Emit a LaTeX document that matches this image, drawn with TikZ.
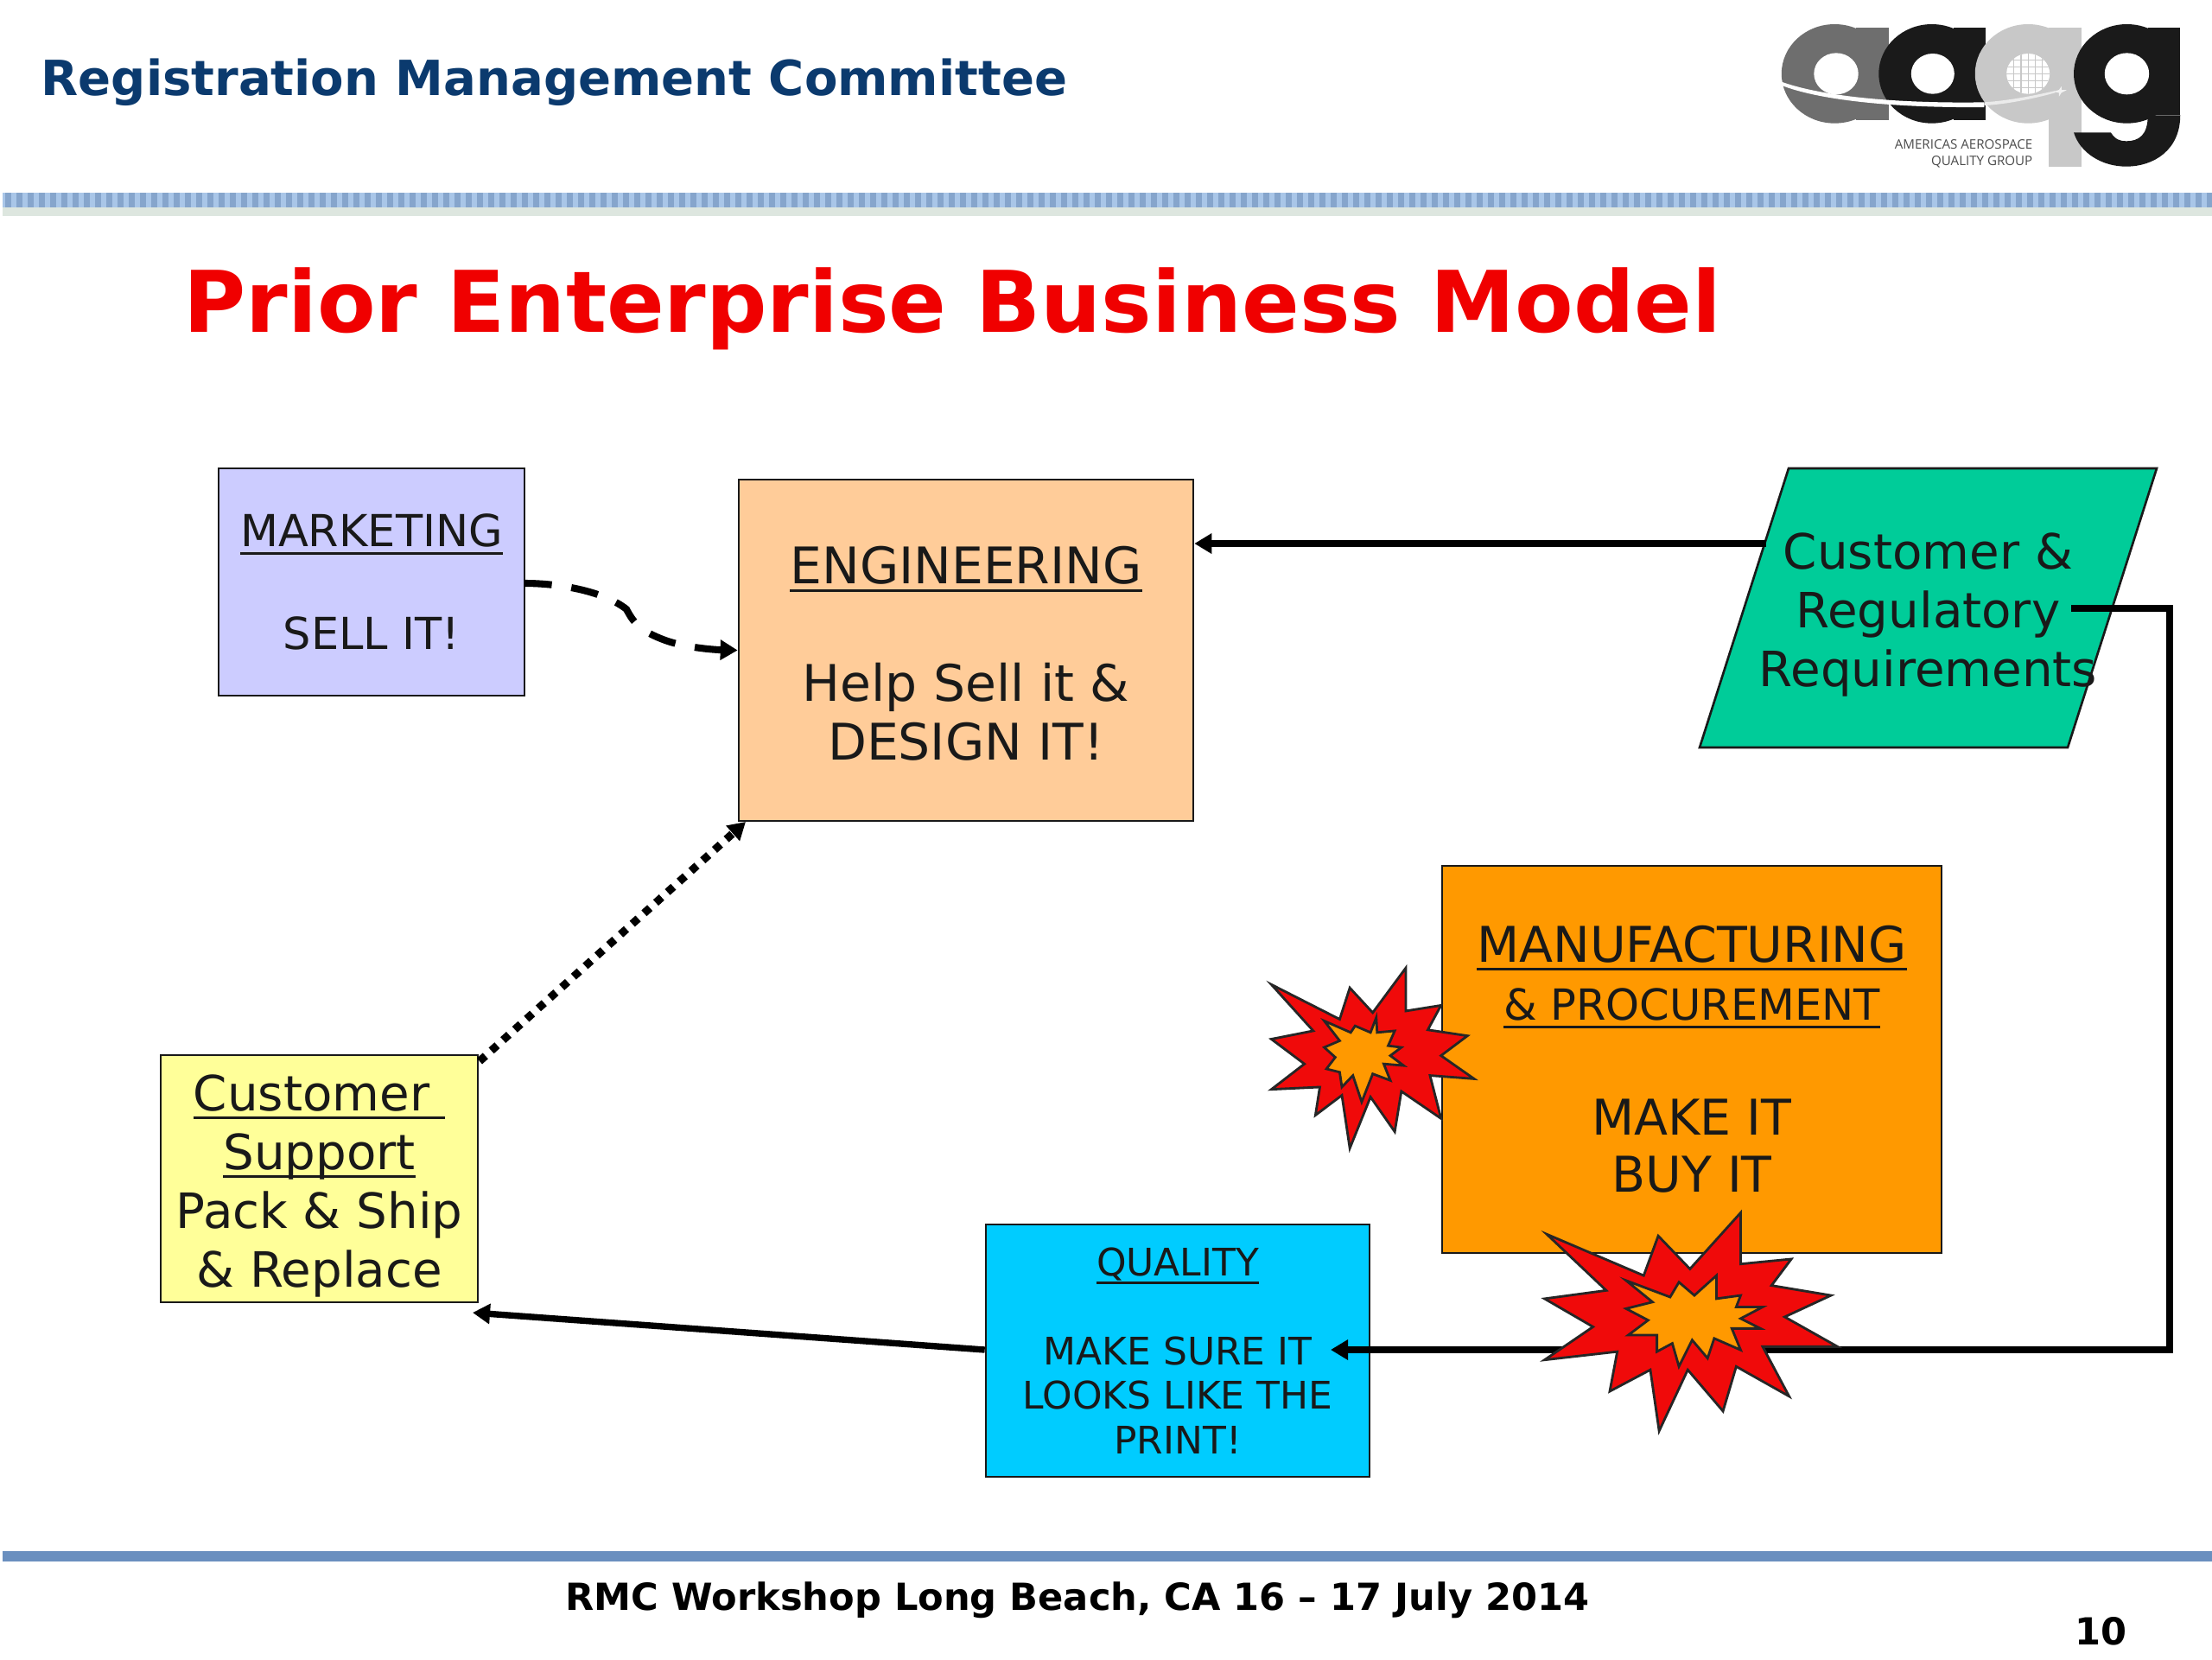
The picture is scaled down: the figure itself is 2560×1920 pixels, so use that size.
\documentclass[tikz,border=0pt]{standalone}
\usepackage{fontspec}
\setmainfont{DejaVu Sans}
\newfontfamily\logofont{Open Sans}
\usetikzlibrary{arrows.meta}
\definecolor{navy}{HTML}{0B3A6E}
\definecolor{titlered}{HTML}{F00000}
\definecolor{mktblue}{HTML}{CCCCFF}
\definecolor{engpeach}{HTML}{FFCC99}
\definecolor{custgreen}{HTML}{00CC99}
\definecolor{mfgorange}{HTML}{FF9900}
\definecolor{qualblue}{HTML}{00CCFF}
\definecolor{suppyellow}{HTML}{FFFF99}
\definecolor{starred}{HTML}{F00A0A}
\definecolor{bandlight}{HTML}{A9C6E8}
\definecolor{banddark}{HTML}{86A5CC}
\definecolor{bandpale}{HTML}{DDE6DF}
\definecolor{rulecol}{HTML}{6A8FBF}
\definecolor{lgrey}{HTML}{6E6E6E}
\definecolor{lblack}{HTML}{1A1A1A}
\definecolor{llight}{HTML}{C8C8C8}
\newsavebox{\ulxbox}
\newcommand{\ulx}[1]{\sbox{\ulxbox}{#1}\rlap{\rule[-2.7pt]{\wd\ulxbox}{0.85pt}}\usebox{\ulxbox}}
\tikzset{
  boxnode/.style={draw=black!90,line width=0.75pt,align=center,inner sep=0pt,text=black!90},
  conn/.style={line width=2.1pt,draw=black,-{Triangle[length=5.7pt,width=6.4pt]}},
  burst/.style={draw=black!85,line width=0.8pt,line join=miter,miter limit=10},
  titletxt/.style={inner sep=0pt,anchor=base west}
}
\begin{document}
\begin{tikzpicture}[x=0.01cm,y=-0.01cm]
\useasboundingbox (0,0) rectangle (2560,1920);
\fill[white] (0,0) rectangle (2560,1920);

% header band
\fill[bandlight] (3,223) rectangle (2560,240);
\fill[bandpale] (3,240) rectangle (2560,250);
\foreach \i in {0,...,196}{
  \fill[banddark] ({6+13*\i},223) rectangle ({13+13*\i},240);
}
% footer rule
\fill[rulecol] (3,1795) rectangle (2560,1807);

% titles
\node[titletxt,text=navy,font={\bfseries\fontsize{15.94pt}{20pt}\selectfont}] (head) at (47,110) {Registration Management Committee};
\node[titletxt,text=titlered,font={\bfseries\fontsize{28pt}{32pt}\selectfont}] (title) at (212,384) {Prior Enterprise Business Model};
\node[inner sep=0pt,anchor=base,text=black,font={\bfseries\fontsize{12.27pt}{15pt}\selectfont}] (foot) at (1247,1863) {RMC Workshop Long Beach, CA 16 -- 17 July 2014};
\node[inner sep=0pt,anchor=base,text=black,font={\bfseries\fontsize{12.27pt}{15pt}\selectfont}] (pageno) at (2431,1903) {10};

% logo
\begin{scope}[shift={(2000,0)},x=0.01cm/2.8,y=-0.01cm/3]
  \fill[lgrey] (345,256) circle [radius=172];
  \fill[lgrey] (415,95) rectangle (520,418);
  \fill[white] (350,256) circle [radius=72];
  \fill[lblack] (660,256) circle [radius=172];
  \fill[lblack] (730,95) rectangle (835,418);
  \fill[white] (663,256) circle [radius=70];
  \fill[llight] (972,256) circle [radius=172];
  \fill[llight] (1040,95) rectangle (1145,578);
  \fill[white] (972,256) circle [radius=70];
  \begin{scope}
    \clip (972,256) circle [radius=70];
    \foreach \dy in {-48,-24,0,24,48}{\draw[llight,line width=0.35pt] (900,256+\dy) -- (1045,256+\dy);}
    \foreach \dx in {-46,-23,0,23,46}{\draw[llight,line width=0.35pt] (972+\dx,180) -- (972+\dx,330);}
  \end{scope}
  \fill[lblack] (1292,256) circle [radius=172];
  \fill[lblack] (1360,95) rectangle (1465,400);
  \fill[lblack] (1465,400) .. controls (1465,520) and (1380,578) .. (1290,578)
     .. controls (1210,578) and (1140,530) .. (1120,460) -- (1240,460)
     .. controls (1255,485) and (1270,490) .. (1290,490)
     .. controls (1330,490) and (1360,470) .. (1360,400) -- cycle;
  \fill[white] (1292,256) circle [radius=72];
  \fill[white] (168,282) .. controls (300,335) and (550,360) .. (830,355)
     -- (830,372) .. controls (550,375) and (300,350) .. (172,296) -- cycle;
  \fill[white!92!black] (830,355) .. controls (900,350) and (980,335) .. (1060,315)
     -- (1060,322) .. controls (980,345) and (900,362) .. (830,366) -- cycle;
  \fill[white!95!black] (1055,318) -- (1072,312) -- (1080,300) -- (1080,312) -- (1098,312) -- (1080,322) -- (1072,335) -- (1072,322) -- cycle;
\end{scope}
\node[inner sep=0pt,anchor=base east,text=black!70,font={\logofont\fontsize{4.3pt}{6pt}\selectfont}] (logotxt1) at (2353,172) {AMERICAS AEROSPACE};
\node[inner sep=0pt,anchor=base east,text=black!70,font={\logofont\fontsize{4.3pt}{6pt}\selectfont}] (logotxt2) at (2353,191) {QUALITY GROUP};

% boxes
\node[boxnode,fill=mktblue,minimum width=354*0.01cm,minimum height=263*0.01cm,font={\fontsize{14.5pt}{17pt}\selectfont}] (mkt) at (430,673.5)
  {\ulx{MARKETING}\\[17pt]SELL IT!};
\node[boxnode,fill=engpeach,minimum width=526*0.01cm,minimum height=395*0.01cm,font={\fontsize{16.6pt}{19.35pt}\selectfont}] (eng) at (1118,752.5)
  {\rule{0pt}{14.4pt}\ulx{ENGINEERING}\\[19.35pt]Help Sell it \&\\DESIGN IT!};
\draw[draw=black!90,line width=0.75pt,fill=custgreen] (2070,542) -- (2496,542) -- (2393,865) -- (1967,865) -- cycle;
\node[align=center,inner sep=0pt,text=black!90,font={\fontsize{16pt}{19.35pt}\selectfont}] (cust) at (2231.5,711)
  {Customer \&\\Regulatory\\Requirements};
\node[boxnode,fill=mfgorange,minimum width=578*0.01cm,minimum height=448*0.01cm,font={\fontsize{16.2pt}{18.9pt}\selectfont}] (mfg) at (1958,1226)
  {\ulx{MANUFACTURING}\\{\fontsize{14.1pt}{18.9pt}\selectfont \ulx{\&~PROCUREMENT}}\\[18.9pt]MAKE IT\\BUY IT};
\node[boxnode,fill=qualblue,minimum width=444*0.01cm,minimum height=292*0.01cm,font={\fontsize{12.5pt}{14.6pt}\selectfont}] (qual) at (1363,1563)
  {\ulx{QUALITY}\\[14.6pt]MAKE SURE IT\\LOOKS LIKE THE\\PRINT!};
\node[boxnode,fill=suppyellow,minimum width=367*0.01cm,minimum height=286*0.01cm,font={\fontsize{16pt}{19.35pt}\selectfont}] (supp) at (369.5,1364)
  {\rule{0pt}{16.8pt}\ulx{Customer\ }\\\ulx{Support}\\Pack \& Ship\\\& Replace};

% connector ends
\coordinate (custL) at (2044,629);
\coordinate (custR) at (2397,704);
\coordinate (bendA) at (2511,704);
\coordinate (bendB) at (2511,1562);
\coordinate (qualTip) at (1540,1562);
\coordinate (suppTip) at (547,1519);
\coordinate (mktOut) at (607,675);
\coordinate (suppOut) at (555,1228);
\coordinate (engCorner) at (863,951);

% connectors
\draw[conn] (custL) -- (custL -| eng.east);
\draw[conn] (custR) -- (bendA) -- (bendB) -- (qualTip);
\draw[conn] (qual.west |- qualTip) -- (suppTip);
\draw[conn,line width=2.6pt,dash pattern=on 2.6pt off 2.6pt] (suppOut) -- (engCorner);
\draw[conn,line width=2.3pt,dash pattern=on 9pt off 6.5pt] (mktOut)
  .. controls (650,675) and (700,685) .. (725,705)
  .. controls (733,720) and (740,730) .. (770,741)
  .. controls (795,750) and (830,752) .. (eng.west);

% bursts
\begin{scope}[shift={(1400,1080)},x=0.01cm/1.96,y=-0.01cm/2.613]
  \draw[burst,fill=starred] (140,155) -- (295,260) -- (318,165) -- (370,240) -- (445,105) -- (445,235) -- (525,218) -- (495,292) -- (585,310) -- (525,370) -- (600,440) -- (500,430) -- (525,560) -- (435,478) -- (420,600) -- (365,495) -- (318,650) -- (300,490) -- (240,550) -- (250,465) -- (140,472) -- (215,395) -- (140,320) -- (235,295) -- cycle;
  \draw[burst,fill=mfgorange] (260,265) -- (320,300) -- (330,280) -- (365,300) -- (378,255) -- (380,300) -- (420,295) -- (405,340) -- (435,345) -- (410,370) -- (440,400) -- (395,395) -- (410,445) -- (370,425) -- (345,510) -- (325,430) -- (300,465) -- (295,420) -- (265,410) -- (285,375) -- (260,345) -- (295,325) -- cycle;
  \draw[burst,fill=starred] (765,910) -- (985,1035) -- (1018,915) -- (1090,1015) -- (1205,845) -- (1205,1000) -- (1320,985) -- (1275,1065) -- (1410,1095) -- (1305,1160) -- (1425,1250) -- (1255,1250) -- (1315,1400) -- (1195,1310) -- (1165,1445) -- (1085,1320) -- (1020,1505) -- (1000,1320) -- (908,1385) -- (925,1265) -- (760,1290) -- (870,1190) -- (760,1105) -- (900,1080) -- cycle;
  \draw[burst,fill=mfgorange] (945,1050) -- (1045,1100) -- (1065,1055) -- (1100,1095) -- (1150,1035) -- (1150,1105) -- (1205,1095) -- (1195,1130) -- (1255,1130) -- (1205,1165) -- (1250,1195) -- (1185,1195) -- (1205,1260) -- (1145,1225) -- (1130,1285) -- (1095,1230) -- (1065,1310) -- (1050,1240) -- (1015,1265) -- (1015,1215) -- (950,1215) -- (995,1170) -- (945,1135) -- (1005,1115) -- cycle;
\end{scope}
\end{tikzpicture}
\end{document}
